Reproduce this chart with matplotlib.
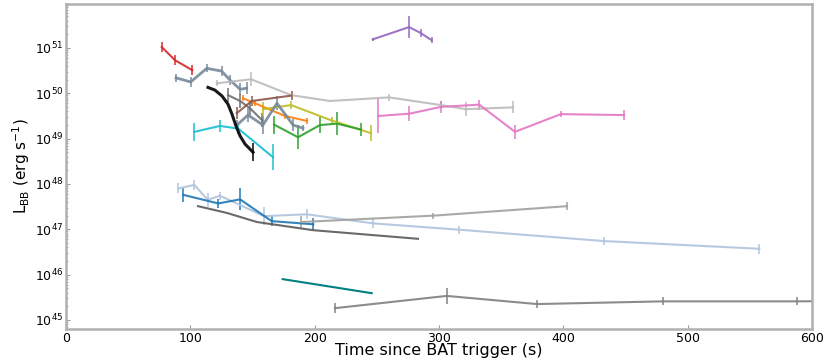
import numpy as np
import matplotlib
matplotlib.use("Agg")
import matplotlib.pyplot as plt
from matplotlib.ticker import LogLocator, NullFormatter

# ---- data: time (s), log10 L_BB, error half-width (dex) ----
red_t = [77.0, 87.7, 101.6]
red_l = [51.02, 50.73, 50.51]
red_e = [0.11, 0.11, 0.11]

slateA_t = [88.5, 100.3, 113.2, 125.2, 131.9, 140.0, 145.3]
slateA_l = [50.34, 50.25, 50.55, 50.49, 50.29, 50.09, 50.11]
slateA_e = [0.09, 0.11, 0.09, 0.11, 0.11, 0.13, 0.13]

black_t = [114.2, 119.8, 125.5, 130.3, 133.5, 136.7, 140.0, 144.0, 147.2, 150.4]
black_l = [50.13, 50.07, 49.94, 49.76, 49.54, 49.28, 49.06, 48.88, 48.79, 48.70]
black_e = [0, 0, 0, 0, 0, 0, 0, 0, 0, 0.2]

cyan_t = [103.2, 123.9, 138.6, 166.5]
cyan_l = [49.15, 49.28, 49.22, 48.59]
cyan_e = [0.2, 0.13, 0.11, 0.29]

orange_t = [142.4, 152.0, 176.1, 193.8]
orange_l = [49.89, 49.78, 49.50, 49.39]
orange_e = [0.07, 0.05, 0.07, 0.07]

brown_t = [137.3, 149.4, 181.5]
brown_l = [49.56, 49.83, 49.95]
brown_e = [0.13, 0.11, 0.09]

olive_t = [158.4, 181.0, 213.7, 245.3]
olive_l = [49.65, 49.74, 49.40, 49.12]
olive_e = [0.15, 0.09, 0.07, 0.18]

green_t = [167.3, 186.6, 204.3, 218.0, 237.3]
green_l = [49.31, 49.03, 49.30, 49.33, 49.20]
green_e = [0.2, 0.26, 0.17, 0.26, 0.15]

pink_t = [251.2, 276.1, 301.6, 332.4, 361.1, 397.9, 448.8]
pink_l = [49.50, 49.55, 49.70, 49.75, 49.15, 49.54, 49.52]
pink_e = [0.37, 0.17, 0.13, 0.11, 0.15, 0.07, 0.11]

purple_t = [246.7, 275.9, 285.3, 294.1]
purple_l = [51.19, 51.46, 51.33, 51.17]
purple_e = [0.04, 0.24, 0.09, 0.07]

silver_t = [121.4, 148.8, 181.0, 212.4, 259.8, 301.6, 321.7, 359.5]
silver_l = [50.22, 50.31, 49.96, 49.83, 49.91, 49.74, 49.65, 49.69]
silver_e = [0.07, 0.15, 0, 0, 0.07, 0.09, 0.15, 0.13]

slateC_t = [137.5, 146.4, 158.4, 169.7, 182.6, 190.6]
slateC_l = [49.30, 49.52, 49.30, 49.78, 49.30, 49.23]
slateC_e = [0.11, 0.15, 0.2, 0.15, 0.13, 0.07]

dgray_t = [130.3, 140.0, 148.0, 157.6]
dgray_l = [49.96, 49.83, 49.67, 49.41]
dgray_e = [0.15, 0.15, 0.15, 0.15]

lsb_t = [90.3, 103.2, 114.0, 123.9, 159.3, 193.6, 247.2, 316.4, 432.7, 557.6]
lsb_l = [47.90, 47.98, 47.65, 47.74, 47.29, 47.33, 47.13, 46.99, 46.74, 46.57]
lsb_e = [0.11, 0.11, 0.15, 0.09, 0.2, 0.11, 0.1, 0.09, 0.09, 0.11]

blue_t = [94.3, 122.5, 140.0, 165.4, 198.9]
blue_l = [47.76, 47.57, 47.66, 47.18, 47.11]
blue_e = [0.15, 0.09, 0.24, 0.11, 0.13]

dimgray_t = [106.2, 129.5, 153.6, 198.7, 283.1]
dimgray_l = [47.51, 47.36, 47.16, 46.98, 46.79]

rise_t = [189.0, 295.2, 403.0]
rise_l = [47.16, 47.30, 47.51]
rise_e = [0.13, 0.07, 0.09]

teal_t = [174.3, 245.9]
teal_l = [45.90, 45.59]

bottom_t = [216.4, 306.2, 378.8, 480.2, 588.0, 640.0]
bottom_l = [45.26, 45.53, 45.35, 45.41, 45.41, 45.42]
bottom_e = [0.11, 0.17, 0.09, 0.09, 0.09, 0.09]

y_tick_exponents = [45, 46, 47, 48, 49, 50, 51]
x_ticks = [0, 100, 200, 300, 400, 500, 600]

series = [
    (red_t, red_l, red_e, "#d62728", 1.5),
    (slateA_t, slateA_l, slateA_e, "#778899", 2.0),
    (silver_t, silver_l, silver_e, "#bbbbbb", 1.5),
    (dgray_t, dgray_l, dgray_e, "#6e6e6e", 1.5),
    (orange_t, orange_l, orange_e, "#ff7f0e", 1.5),
    (brown_t, brown_l, brown_e, "#8c564b", 1.5),
    (olive_t, olive_l, olive_e, "#bcbd22", 1.5),
    (green_t, green_l, green_e, "#2ca02c", 1.5),
    (slateC_t, slateC_l, slateC_e, "#778899", 2.0),
    (cyan_t, cyan_l, cyan_e, "#17becf", 1.5),
    (black_t, black_l, black_e, "#000000", 2.2),
    (pink_t, pink_l, pink_e, "#e377c2", 1.5),
    (purple_t, purple_l, purple_e, "#9467bd", 1.5),
    (lsb_t, lsb_l, lsb_e, "#b0c4de", 1.5),
    (blue_t, blue_l, blue_e, "#1f77b4", 1.5),
    (rise_t, rise_l, rise_e, "#a0a0a0", 1.5),
    (bottom_t, bottom_l, bottom_e, "#808080", 1.5),
]

fig = plt.figure(figsize=(8.3, 3.63), dpi=100)
ax = fig.add_axes([66 / 830, 1 - 329 / 363, (812 - 66) / 830, (329 - 4) / 363])

for t, l, e, c, lw in series:
    t = np.array(t); l = np.array(l); e = np.array(e)
    L = 10 ** l
    lo = L - 10 ** (l - e)
    hi = 10 ** (l + e) - L
    ax.errorbar(t, L, yerr=[lo, hi], color=c, lw=lw, elinewidth=1.2,
                capsize=0, alpha=0.9)

ax.plot(dimgray_t, 10 ** np.array(dimgray_l), color="#5a5a5a", lw=1.5, alpha=0.9)
ax.plot(teal_t, 10 ** np.array(teal_l), color="#008080", lw=1.5)

ax.set_yscale("log")
ax.set_xlim(0, 600)
ax.set_ylim(10 ** 44.8, 10 ** 51.97)
ax.set_xticks(x_ticks)
ax.set_yticks([10.0 ** k for k in y_tick_exponents])
ax.set_yticklabels([r"$10^{%d}$" % k for k in y_tick_exponents])
ax.yaxis.set_minor_locator(LogLocator(base=10, subs=np.arange(2, 10), numticks=100))
ax.yaxis.set_minor_formatter(NullFormatter())

for s in ax.spines.values():
    s.set_color("#b0b0b0")
    s.set_linewidth(1.8)

ax.tick_params(axis="both", which="major", labelsize=9, direction="in",
               length=3, color="#999999", pad=2)
ax.tick_params(axis="both", which="minor", direction="in", length=1.5,
               color="#999999")

ax.set_xlabel("Time since BAT trigger (s)", fontsize=11.5, labelpad=-1)
ax.set_ylabel(r"L$_{\rm BB}$ (erg s$^{-1}$)", fontsize=11, labelpad=2)

fig.savefig("out.png", dpi=100)
